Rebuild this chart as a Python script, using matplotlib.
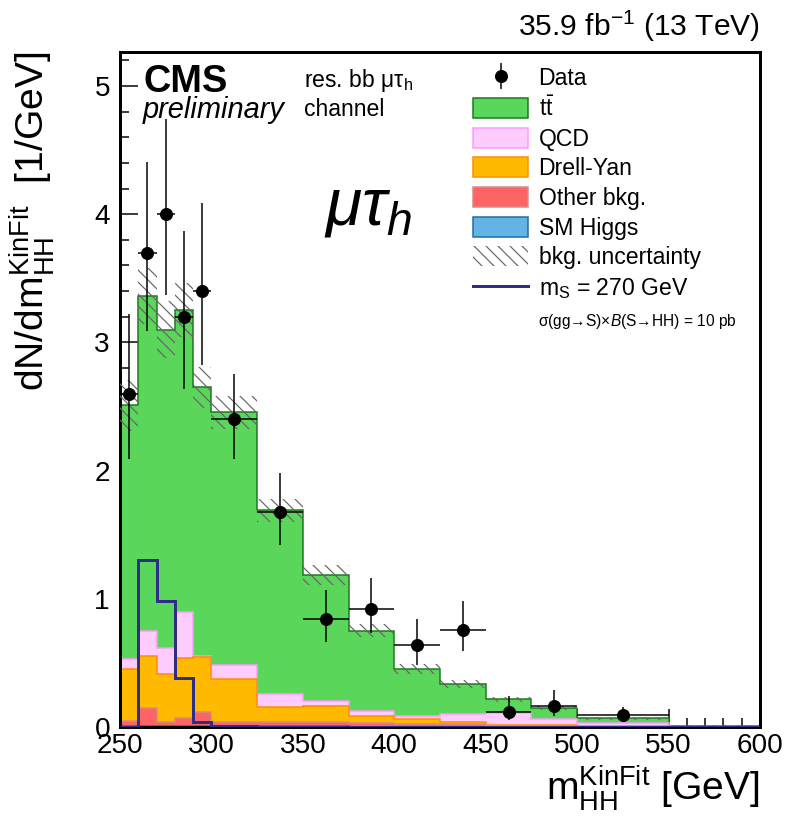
"""
Stacked background histogram of the kinematic-fit HH mass in the res. bb mu-tau_h channel.
"""
import numpy as np
import matplotlib
matplotlib.use("Agg")
import matplotlib.pyplot as plt
from matplotlib.patches import Patch
from matplotlib.lines import Line2D
from matplotlib.legend_handler import HandlerTuple
from matplotlib.ticker import MultipleLocator

plt.rcParams['font.family'] = ['Liberation Sans', 'DejaVu Sans']
plt.rcParams['mathtext.fontset'] = 'custom'
plt.rcParams['mathtext.rm'] = 'Liberation Sans'
plt.rcParams['mathtext.it'] = 'Liberation Sans:italic'
plt.rcParams['mathtext.bf'] = 'Liberation Sans:bold'
plt.rcParams['mathtext.default'] = 'regular'
plt.rcParams['hatch.linewidth'] = 1.2

# Binning of m_HH^KinFit [GeV]
edges = np.array([250, 260, 270, 280, 290, 300, 325, 350, 375, 400, 425, 450, 475, 500, 550, 600])

# Background contributions per bin [1/GeV]
sm_higgs = np.array([0.010, 0.010, 0.010, 0.008, 0.008, 0.006, 0.005, 0.004, 0.003, 0.003, 0.002, 0.002, 0.001, 0.001, 0.001])
other_bkg = np.array([0.040, 0.136, 0.027, 0.060, 0.112, 0.034, 0.032, 0.033, 0.027, 0.020, 0.018, 0.008, 0.009, 0.007, 0.001])
drell_yan = np.array([0.402, 0.408, 0.379, 0.468, 0.424, 0.332, 0.122, 0.127, 0.056, 0.037, 0.017, 0.005, 0.002, 0.002, 0.000])
qcd = np.array([0.078, 0.192, 0.204, 0.364, 0.006, 0.112, 0.098, 0.041, 0.036, 0.028, 0.063, 0.092, 0.050, 0.024, 0.001])
ttbar = np.array([1.980, 2.614, 2.480, 2.350, 2.100, 1.971, 1.433, 0.981, 0.628, 0.364, 0.233, 0.109, 0.089, 0.034, 0.007])
bkg_unc = np.array([0.20, 0.22, 0.22, 0.21, 0.16, 0.13, 0.09, 0.08, 0.05, 0.04, 0.03, 0.02, 0.015, 0.01, 0.002])

# Signal m_S = 270 GeV
signal = np.array([0.0, 1.30, 0.98, 0.38, 0.04, 0.005, 0.003, 0.003, 0.003, 0.003, 0.003, 0.003, 0.003, 0.003, 0.003])

# Observed data (no entries in the last bin)
data_y = np.array([2.60, 3.70, 4.00, 3.20, 3.40, 2.40, 1.68, 0.84, 0.92, 0.64, 0.76, 0.12, 0.16, 0.09])
data_lo = np.array([0.51, 0.61, 0.63, 0.56, 0.58, 0.31, 0.26, 0.18, 0.19, 0.16, 0.17, 0.065, 0.076, 0.04])
data_hi = np.array([0.62, 0.71, 0.74, 0.67, 0.69, 0.35, 0.30, 0.23, 0.24, 0.20, 0.22, 0.12, 0.13, 0.065])

layers = [
    (sm_higgs, '#63b4e4', '#1f6aa8', 'SM Higgs'),
    (other_bkg, '#fe6464', '#d88a8a', 'Other bkg.'),
    (drell_yan, '#ffba00', '#ff8c00', 'Drell-Yan'),
    (qcd, '#ffccfe', '#ff99ff', 'QCD'),
    (ttbar, '#5ad65a', '#1a7a1a', r'$t\bar{t}$'),
]

fig = plt.figure(figsize=(787 / 72, 819 / 72), dpi=72)
ax = fig.add_axes([120 / 787, 1 - 727 / 819, 640 / 787, 675 / 819])

# stack drawn from the tallest sum down, each from zero
cum = np.cumsum([l[0] for l in layers], axis=0)
for i in reversed(range(len(layers))):
    vals, fc, ec, lab = layers[i]
    ax.stairs(cum[i], edges, baseline=0, fill=True, facecolor=fc, edgecolor='none', zorder=2)
    ax.stairs(cum[i], edges, baseline=None, color=ec, lw=1.5, zorder=2.1)

total = cum[-1]
ax.stairs(total + bkg_unc, edges, baseline=total - bkg_unc, fill=True, facecolor='none',
          edgecolor='#666666', lw=0, hatch='\\\\', zorder=3)

ax.stairs(signal, edges, baseline=None, color='#2e2e88', lw=3, zorder=4)

centers = 0.5 * (edges[:-1] + edges[1:])[:len(data_y)]
halfw = 0.5 * np.diff(edges)[:len(data_y)]
ax.errorbar(centers, data_y, yerr=[data_lo, data_hi], xerr=halfw, fmt='o', color='black',
            ms=12, elinewidth=1.5, capsize=0, zorder=5)

ax.set_xlim(250, 600)
ax.set_ylim(0, 5.265)
ax.xaxis.set_major_locator(MultipleLocator(50))
ax.xaxis.set_minor_locator(MultipleLocator(10))
ax.yaxis.set_major_locator(MultipleLocator(1))
ax.yaxis.set_minor_locator(MultipleLocator(0.2))
ax.tick_params(which='both', direction='in', top=False, right=False, width=1.5, labelsize=28)
ax.tick_params(which='major', length=18)
ax.tick_params(which='minor', length=9)
ax.tick_params(axis='x', pad=6)
ax.tick_params(axis='y', pad=10)
for sp in ax.spines.values():
    sp.set_linewidth(3)

ax.set_xlabel(r'm$_{HH}^{KinFit}$ [GeV]', fontsize=39, loc='right')
ax.xaxis.set_label_coords(1.0, -0.054)
ax.set_ylabel(r'dN/dm$_{HH}^{KinFit}$  [1/GeV]', fontsize=39, loc='top')
ax.yaxis.set_label_coords(-0.098, 1.0)

# header texts
ax.text(1.0, 1.012, r'35.9 fb$^{-1}$ (13 TeV)', transform=ax.transAxes, ha='right', va='bottom', fontsize=30)
ax.text(0.036, 0.94, 'CMS', transform=ax.transAxes, fontsize=38, fontweight='bold', va='baseline')
ax.text(0.036, 0.902, 'preliminary', transform=ax.transAxes, fontsize=29, style='italic', va='baseline')
ax.text(0.2875, 0.948, r'res. bb μτ$_h$', transform=ax.transAxes, fontsize=23, va='baseline')
ax.text(0.2875, 0.905, 'channel', transform=ax.transAxes, fontsize=23, va='baseline')
ax.text(0.318, 0.744, r'$\mathit{\mu\tau_h}$', transform=ax.transAxes, fontsize=66, va='baseline')

# legend
h_data = (Line2D([], [], ls='none', marker='|', ms=26, mew=1.5, color='black'),
          Line2D([], [], ls='none', marker='o', ms=12, color='black'))
handles = [h_data]
labels = ['Data']
for vals, fc, ec, lab in reversed(layers):
    handles.append(Patch(facecolor=fc, edgecolor=ec, lw=1.5))
    labels.append(lab)
handles.append(Patch(facecolor='none', edgecolor='#666666', lw=0, hatch='\\\\'))
labels.append('bkg. uncertainty')
handles.append(Line2D([], [], color='#2e2e88', lw=3))
labels.append(r'm$_S$ = 270 GeV')
ax.legend(handles, labels, loc='upper left', bbox_to_anchor=(0.5516, 0.978), frameon=False,
          fontsize=23, handlelength=2.4, handleheight=0.95, labelspacing=0.29, handletextpad=0.45,
          borderaxespad=0, borderpad=0, handler_map={tuple: HandlerTuple(ndivide=1)})
ax.text(0.653, 0.60, r'σ(gg→S)×$\mathit{B}$(S→HH) = 10 pb', transform=ax.transAxes, fontsize=15.5, va='center')

fig.savefig('out.png', dpi=72)
